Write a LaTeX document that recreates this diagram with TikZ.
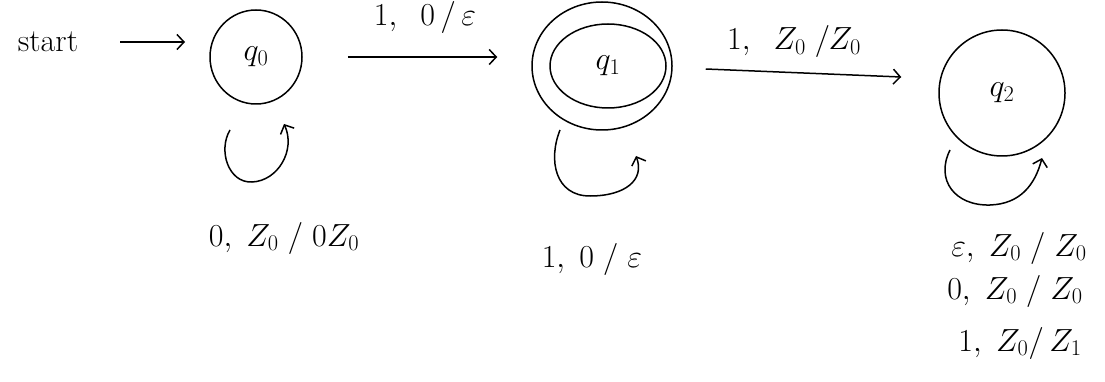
\RequirePackage{fix-cm}
\documentclass[tikz,border=0pt]{standalone}
\usetikzlibrary{arrows.meta,shapes.geometric}
\begin{document}
\begin{tikzpicture}[x=1pt,y=-1pt,
  every node/.style={font=\fontsize{32}{36}\selectfont, inner sep=0pt},
  state/.style={draw, line width=1.5pt, ellipse},
  arr/.style={line width=1.5pt, -{Straight Barb[length=7pt,width=15pt,line width=1.5pt]}},
  loopline/.style={line width=1.5pt, -{Straight Barb[length=7pt,width=15pt,line width=1.5pt]}},
  lab/.style={}]
\useasboundingbox (0,0) rectangle (1105,382);

% states
\node[state, minimum width=92pt, minimum height=94pt] (q0) at (256,57) {$q_0$};
\node[state, minimum width=116pt, minimum height=84pt] (q1) at (608,66) {$q_1$};
\draw[line width=1.5pt] ([xshift=-6pt]q1.center) ellipse [x radius=70, y radius=64];
\node[state, minimum width=126pt, minimum height=126pt] (q2) at (1002,93) {$q_2$};

% start
\node (start) at (48,42) {start};
\coordinate (s0) at (120,42);
\coordinate (s1) at (185,42);
\draw[arr] (s0) -- (s1);

% transitions
\draw[arr, shorten <=45pt, shorten >=52pt] (q0.east) -- (q0.east -| q1.west);
\node[lab] (l01) at (425,18) {$1,\;\; 0\,/\,\varepsilon$};

\draw[arr] ([shift={(39,3)}]q1.east) -- ([shift={(-37,-16)}]q2.west);
\node[lab] (l12) at (794,42) {$1,\;\; Z_0\;/Z_0$};

% self loops
\coordinate (a0) at (230,130);
\coordinate (b0) at (252,182);
\coordinate (c0) at (284,124);
\draw[loopline] (a0) .. controls (218,150) and (228,183) .. (b0)
  .. controls (278,181) and (296,150) .. (c0);
\node[lab] (l00) at (284,238) {$0,\; Z_0\;/\;0Z_0$};

\coordinate (a1) at (560,130);
\coordinate (b1) at (590,196);
\coordinate (c1) at (636,156);
\draw[loopline] (a1) .. controls (548,160) and (555,196) .. (b1)
  .. controls (625,196) and (645,180) .. (c1);
\node[lab] (l11) at (592,259) {$1,\; 0\;/\;\varepsilon$};

\coordinate (a2) at (950,150);
\coordinate (b2) at (990,205);
\coordinate (c2) at (1042,158);
\draw[loopline] (a2) .. controls (935,180) and (955,206) .. (b2)
  .. controls (1020,204) and (1035,185) .. (c2);
\node[lab] (l22a) at (1019,248) {$\varepsilon,\; Z_0\;/\;Z_0$};
\node[lab] (l22b) at (1015,291) {$0,\; Z_0\;/\;Z_0$};
\node[lab] (l22c) at (1020,343) {$1,\; Z_0/\,Z_1$};
\end{tikzpicture}
\end{document}
